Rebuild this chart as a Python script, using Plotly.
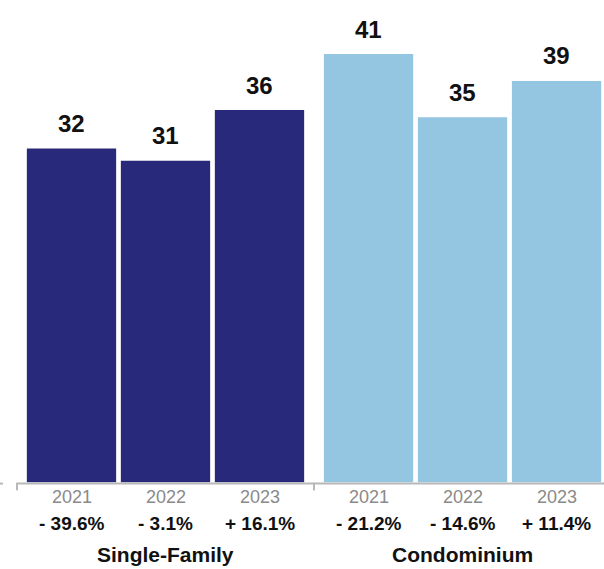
import plotly.graph_objects as go

# ---- data ----
years = ["2021", "2022", "2023"]
groups = ["Single-Family", "Condominium"]
single_family = [32.2, 31.0, 35.9]
condominium = [41.3, 35.2, 38.7]
sf_change = ["- 39.6%", "- 3.1%", "+ 16.1%"]
condo_change = ["- 21.2%", "- 14.6%", "+ 11.4%"]

series = [single_family, condominium]
changes = [sf_change, condo_change]
colors = ["#29297b", "#94c6e2"]

# ---- layout constants ----
GAP = 0.16          # extra space between groups (category units)
BAR_W = 0.95
FONT = "Liberation Sans, Arial, Helvetica, sans-serif"
AXIS_COLOR = "#b8b8b8"

def pos(g, j):
    return g * (len(years) + GAP) + j

fig = go.Figure()
annotations = []
shapes = []

for g, (name, vals, chg, col) in enumerate(zip(groups, series, changes, colors)):
    xs = [pos(g, j) for j in range(len(years))]
    fig.add_trace(go.Bar(
        x=xs, y=vals, width=BAR_W, marker=dict(color=col, line=dict(width=0)),
        name=name, hoverinfo="y", showlegend=False,
    ))
    for x, v, yr, c in zip(xs, vals, years, chg):
        annotations.append(dict(x=x, y=v, xref="x", yref="y", text=f"<b>{v:.0f}</b>",
                                showarrow=False, yanchor="middle", yshift=25,
                                font=dict(size=24, color="#111111", family=FONT)))
        annotations.append(dict(x=x, y=0, xref="x", yref="y", text=yr,
                                showarrow=False, yanchor="middle", yshift=-15,
                                font=dict(size=18, color="#8a8a8a", family=FONT)))
        annotations.append(dict(x=x, y=0, xref="x", yref="y", text=f"<b>{c}</b>",
                                showarrow=False, yanchor="middle", yshift=-41,
                                font=dict(size=19, color="#111111", family=FONT)))
    annotations.append(dict(x=pos(g, 1), y=0, xref="x", yref="y", text=f"<b>{name}</b>",
                            showarrow=False, yanchor="middle", yshift=-72.5,
                            font=dict(size=21, color="#111111", family=FONT)))
    left = pos(g, 0) - 0.5 - GAP / 2
    right = pos(g, len(years) - 1) + 0.5 + GAP / 2
    # axis line segment for the group
    shapes.append(dict(type="line", xref="x", yref="y", x0=left, x1=right,
                       ysizemode="pixel", yanchor=0, y0=-1.3, y1=-1.3,
                       line=dict(color=AXIS_COLOR, width=2)))
    # group divider ticks
    for bx in (left, right):
        shapes.append(dict(type="line", xref="x", yref="y", x0=bx, x1=bx,
                           ysizemode="pixel", yanchor=0, y0=-0.5, y1=-8,
                           line=dict(color=AXIS_COLOR, width=2)))

# small stub at the left edge
shapes.append(dict(type="line", xref="paper", yref="y", xsizemode="pixel", xanchor=0,
                   x0=0, x1=3, ysizemode="pixel", yanchor=0, y0=-1.3, y1=-1.3,
                   line=dict(color=AXIS_COLOR, width=2)))

PX_PER_UNIT = 10.37
BASE_PX = 482.3
H = 569
fig.update_layout(
    width=604, height=569,
    margin=dict(l=0, r=0, t=0, b=0),
    paper_bgcolor="white", plot_bgcolor="white",
    barmode="overlay",
    xaxis=dict(range=[pos(0, 0) - 71.5 / 94, pos(0, 0) + 532.5 / 94], visible=False, fixedrange=True),
    yaxis=dict(range=[-(H - BASE_PX) / PX_PER_UNIT, BASE_PX / PX_PER_UNIT], visible=False, fixedrange=True),
    annotations=annotations,
    shapes=shapes,
    font=dict(family=FONT),
)

fig.write_html("out.html")
